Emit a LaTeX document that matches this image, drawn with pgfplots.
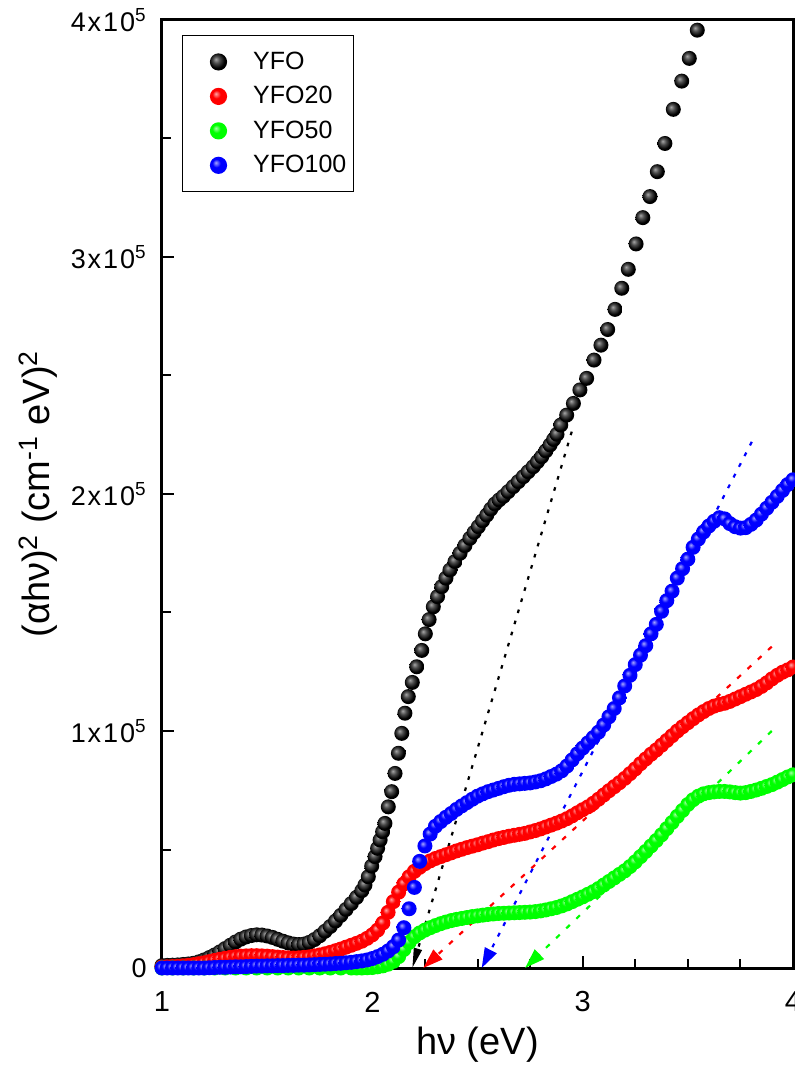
\documentclass[border=0pt]{standalone}
\usepackage{fontspec}
\setmainfont{Liberation Sans}
\usepackage{pgfplots}
\pgfplotsset{compat=1.18}
\usetikzlibrary{arrows.meta}
\pgfdeclareradialshading{shK}{\pgfpoint{-8bp}{8bp}}{color(0bp)=(black!35!white); color(10bp)=(black!70!white); color(22bp)=(black); color(50bp)=(black)}
\pgfdeclareradialshading{shR}{\pgfpoint{-8bp}{8bp}}{color(0bp)=(red!35!white); color(12bp)=(red); color(42bp)=(red); color(50bp)=(red!85!black)}
\pgfdeclareradialshading{shG}{\pgfpoint{-8bp}{8bp}}{color(0bp)=(green!35!white); color(12bp)=(green); color(42bp)=(green); color(50bp)=(green!85!black)}
\pgfdeclareradialshading{shB}{\pgfpoint{-8bp}{8bp}}{color(0bp)=(blue!35!white); color(12bp)=(blue); color(42bp)=(blue); color(50bp)=(blue!85!black)}
\pgfdeclareplotmark{ballK}{\pgfpathcircle{\pgfpointorigin}{\pgfplotmarksize}\pgfshadepath{shK}{0}\pgfusepath{discard}}
\pgfdeclareplotmark{ballR}{\pgfpathcircle{\pgfpointorigin}{\pgfplotmarksize}\pgfshadepath{shR}{0}\pgfusepath{discard}}
\pgfdeclareplotmark{ballG}{\pgfpathcircle{\pgfpointorigin}{\pgfplotmarksize}\pgfshadepath{shG}{0}\pgfusepath{discard}}
\pgfdeclareplotmark{ballB}{\pgfpathcircle{\pgfpointorigin}{\pgfplotmarksize}\pgfshadepath{shB}{0}\pgfusepath{discard}}
\begin{document}
\begin{tikzpicture}
\begin{axis}[
  scale only axis, width=315.5pt, height=474pt,
  at={(0,0)}, anchor=south west,
  xmin=1, xmax=4, ymin=0, ymax=4,
  xtick={1,2,3,4}, xticklabels={1,2,3,4},
  minor x tick num=3,
  ytick={0,1,2,3,4},
  yticklabels={0,1x10\textsuperscript{5},2x10\textsuperscript{5},3x10\textsuperscript{5},4x10\textsuperscript{5}},
  minor y tick num=1,
  tick pos=left, tick align=inside,
  major tick length=6pt, minor tick length=4.5pt,
  every tick/.style={black, line width=1pt},
  axis line style={line width=1.5pt},
  xticklabel style={font=\fontsize{14.5}{14.5}\selectfont, anchor=center, inner sep=0pt, yshift=-17pt},
  yticklabel style={font=\fontsize{13.5}{13.5}\selectfont\addfontfeature{LetterSpace=7}, anchor=east, inner sep=0pt, xshift=-7.5pt},
  xlabel={hν (eV)},
  ylabel={(αhν)\textsuperscript{2} (cm\textsuperscript{-1} eV)\textsuperscript{2}},
  every axis x label/.style={at={(axis description cs:0.5,-0.0812)}, anchor=center, font=\fontsize{19}{19}\selectfont},
  every axis y label/.style={at={(axis description cs:-0.1965,0.5)}, anchor=center, rotate=90, font=\fontsize{19}{19}\selectfont},
  legend style={at={(axis description cs:0.0317,0.9842)}, anchor=north west, draw=black, line width=0.75pt,
    font=\fontsize{12.5}{12.5}\selectfont, inner xsep=1.5pt, inner ysep=6pt, row sep=3pt, column sep=0pt},
  legend cell align=left,
  legend image code/.code={\draw[#1, mark size=4.3pt] plot coordinates {(0pt,0pt)}; \path (-16pt,0pt) (15pt,0pt);},
  mark size=3.75pt,
]
\addplot[only marks, mark=ballK] table {
1.000 .010
1.025 .011
1.050 .012
1.075 .013
1.100 .015
1.125 .017
1.150 .020
1.175 .026
1.200 .034
1.225 .044
1.250 .055
1.275 .068
1.300 .082
1.325 .096
1.350 .110
1.375 .122
1.400 .131
1.425 .137
1.450 .140
1.475 .139
1.500 .135
1.525 .129
1.550 .121
1.575 .113
1.600 .106
1.625 .101
1.650 .099
1.675 .101
1.700 .108
1.725 .120
1.750 .136
1.775 .155
1.800 .175
1.825 .198
1.850 .222
1.875 .247
1.900 .272
1.925 .298
1.950 .326
1.965 .350
1.981 .385
1.997 .430
2.013 .470
2.025 .505
2.037 .540
2.049 .575
2.060 .610
2.076 .680
2.092 .744
2.108 .821
2.124 .906
2.140 .990
2.155 1.075
2.171 1.145
2.190 1.205
2.211 1.271
2.235 1.340
2.252 1.410
2.270 1.470
2.290 1.524
2.310 1.567
2.330 1.609
2.350 1.645
2.369 1.679
2.393 1.715
2.417 1.750
2.440 1.782
2.464 1.813
2.484 1.838
2.504 1.862
2.524 1.887
2.544 1.911
2.563 1.936
2.583 1.958
2.603 1.975
2.623 1.990
2.646 2.010
2.670 2.031
2.694 2.052
2.718 2.073
2.741 2.094
2.765 2.115
2.785 2.136
2.805 2.157
2.825 2.182
2.845 2.207
2.862 2.230
2.878 2.252
2.896 2.291
2.924 2.333
2.956 2.382
2.987 2.439
3.019 2.488
3.054 2.565
3.087 2.628
3.119 2.694
3.154 2.779
3.186 2.868
3.217 2.948
3.254 3.055
3.286 3.166
3.320 3.255
3.355 3.360
3.391 3.479
3.431 3.623
3.471 3.742
3.507 3.838
3.545 3.957
};
\addlegendentry{YFO}
\addplot[only marks, mark=ballR] table {
1.000 .004
1.025 .005
1.050 .006
1.075 .007
1.100 .009
1.125 .011
1.150 .014
1.175 .018
1.200 .022
1.225 .027
1.250 .032
1.275 .037
1.300 .041
1.325 .045
1.350 .048
1.375 .050
1.400 .051
1.425 .052
1.450 .052
1.475 .051
1.500 .050
1.525 .048
1.550 .046
1.575 .044
1.600 .043
1.625 .042
1.650 .043
1.675 .045
1.700 .047
1.725 .051
1.750 .055
1.775 .060
1.800 .066
1.825 .073
1.850 .080
1.875 .088
1.900 .096
1.925 .104
1.950 .113
1.975 .125
2.000 .140
2.025 .160
2.050 .190
2.075 .235
2.100 .280
2.125 .320
2.150 .355
2.175 .385
2.200 .408
2.225 .425
2.250 .440
2.275 .452
2.300 .462
2.325 .470
2.350 .478
2.375 .486
2.400 .494
2.425 .501
2.450 .508
2.475 .514
2.500 .520
2.525 .527
2.550 .533
2.575 .540
2.600 .546
2.625 .551
2.650 .556
2.675 .560
2.700 .564
2.725 .568
2.750 .574
2.775 .580
2.800 .587
2.825 .595
2.850 .603
2.875 .611
2.900 .620
2.925 .630
2.950 .642
2.975 .655
3.000 .668
3.025 .680
3.050 .695
3.075 .712
3.100 .730
3.125 .748
3.150 .765
3.175 .782
3.200 .800
3.225 .820
3.250 .840
3.275 .862
3.300 .882
3.325 .902
3.350 .920
3.375 .940
3.400 .960
3.425 .980
3.450 1.000
3.475 1.018
3.500 1.035
3.525 1.052
3.550 1.068
3.575 1.082
3.600 1.095
3.625 1.105
3.650 1.112
3.675 1.117
3.700 1.125
3.725 1.135
3.750 1.145
3.775 1.155
3.800 1.165
3.825 1.175
3.850 1.188
3.875 1.203
3.900 1.220
3.925 1.235
3.950 1.248
3.975 1.258
4.000 1.270
};
\addlegendentry{YFO20}
\addplot[only marks, mark=ballG] table {
1.000 .000
1.050 .000
1.100 .000
1.150 .000
1.200 .000
1.250 .000
1.300 .000
1.350 .000
1.400 .000
1.450 .000
1.500 .000
1.550 .000
1.600 .000
1.650 .000
1.700 .000
1.750 .000
1.800 .000
1.850 .000
1.900 .000
1.925 .000
1.950 .000
1.975 .001
2.000 .002
2.025 .005
2.050 .009
2.075 .016
2.100 .028
2.125 .048
2.150 .078
2.175 .108
2.200 .132
2.225 .148
2.250 .160
2.275 .170
2.300 .179
2.325 .187
2.350 .194
2.375 .200
2.400 .205
2.425 .209
2.450 .213
2.475 .217
2.500 .220
2.525 .223
2.550 .226
2.575 .228
2.600 .230
2.625 .231
2.650 .232
2.675 .233
2.700 .234
2.725 .235
2.750 .236
2.775 .238
2.800 .241
2.825 .245
2.850 .250
2.875 .255
2.900 .262
2.925 .270
2.950 .280
2.975 .290
3.000 .300
3.025 .311
3.050 .322
3.075 .335
3.100 .350
3.125 .365
3.150 .380
3.175 .395
3.200 .410
3.225 .428
3.250 .448
3.275 .470
3.300 .492
3.325 .515
3.350 .538
3.375 .562
3.400 .588
3.425 .614
3.450 .640
3.475 .665
3.500 .690
3.525 .710
3.550 .725
3.575 .735
3.600 .740
3.625 .743
3.650 .745
3.675 .745
3.700 .743
3.725 .740
3.750 .738
3.775 .740
3.800 .745
3.825 .751
3.850 .758
3.875 .766
3.900 .774
3.925 .784
3.950 .795
3.975 .806
4.000 .815
};
\addlegendentry{YFO50}
\addplot[only marks, mark=ballB] table {
1.000 .000
1.025 .000
1.050 .000
1.075 .000
1.100 .000
1.125 .000
1.150 .000
1.175 .000
1.200 .000
1.225 .001
1.250 .002
1.275 .003
1.300 .003
1.325 .004
1.350 .005
1.375 .005
1.400 .006
1.425 .007
1.450 .008
1.475 .008
1.500 .009
1.525 .009
1.550 .010
1.575 .010
1.600 .011
1.625 .011
1.650 .012
1.675 .012
1.700 .013
1.725 .014
1.750 .015
1.775 .016
1.800 .017
1.825 .019
1.850 .020
1.875 .022
1.900 .024
1.925 .027
1.950 .030
1.975 .034
2.000 .040
2.025 .048
2.050 .058
2.075 .072
2.100 .090
2.125 .118
2.150 .170
2.175 .250
2.200 .340
2.225 .450
2.250 .515
2.275 .565
2.300 .598
2.325 .618
2.350 .636
2.375 .652
2.400 .669
2.425 .684
2.450 .698
2.475 .712
2.500 .725
2.525 .735
2.550 .744
2.575 .751
2.600 .758
2.625 .765
2.650 .771
2.675 .775
2.700 .777
2.725 .779
2.750 .781
2.775 .785
2.800 .790
2.825 .798
2.850 .808
2.875 .818
2.900 .832
2.925 .852
2.950 .878
2.975 .904
3.000 .928
3.025 .950
3.050 .972
3.075 .995
3.100 1.025
3.125 1.060
3.150 1.095
3.175 1.140
3.200 1.190
3.225 1.235
3.250 1.280
3.275 1.320
3.300 1.360
3.325 1.410
3.350 1.450
3.375 1.505
3.400 1.550
3.425 1.590
3.450 1.645
3.475 1.685
3.500 1.725
3.525 1.775
3.550 1.810
3.575 1.840
3.600 1.865
3.625 1.885
3.650 1.900
3.675 1.895
3.700 1.875
3.725 1.862
3.750 1.856
3.775 1.858
3.800 1.872
3.825 1.890
3.850 1.915
3.875 1.940
3.900 1.965
3.925 1.990
3.950 2.015
3.975 2.040
4.000 2.060
};
\addlegendentry{YFO100}
\addplot[forget plot, black, line width=1.1pt, dash pattern=on 1.8pt off 4pt, -{Triangle[length=10pt,width=4pt]}] coordinates {(2.948,2.263) (2.190,0)};
\addplot[forget plot, red, line width=1.1pt, dash pattern=on 2.5pt off 4.5pt, -{Triangle[length=10pt,width=6.5pt]}] coordinates {(3.899,1.356) (2.242,0)};
\addplot[forget plot, blue, line width=1.1pt, dash pattern=on 2pt off 4pt, -{Triangle[length=10pt,width=6.5pt]}] coordinates {(3.804,2.220) (2.520,0)};
\addplot[forget plot, green, line width=1.1pt, dash pattern=on 2.5pt off 4.5pt, -{Triangle[length=10pt,width=6.5pt]}] coordinates {(3.899,1.000) (2.726,0)};
\end{axis}
\pgfresetboundingbox
\path (-81pt,-49.5pt) rectangle (316.5pt,484pt);
\end{tikzpicture}
\end{document}
